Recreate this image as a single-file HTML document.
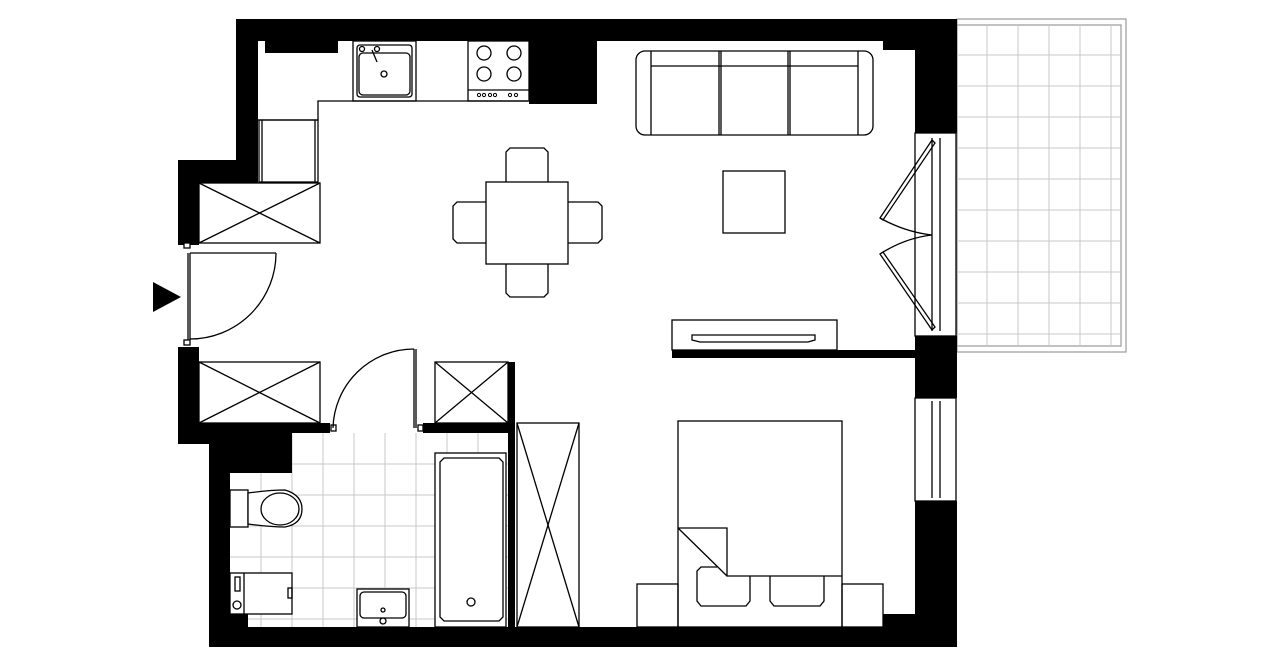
<!DOCTYPE html>
<html><head><meta charset="utf-8"><style>html,body{margin:0;padding:0;background:#fff}svg{display:block}</style></head>
<body>
<svg width="1280" height="667" viewBox="0 0 1280 667" xmlns="http://www.w3.org/2000/svg">
<rect width="1280" height="667" fill="#fff"/>
<!-- bathroom tiles -->
<g stroke="#c8c8c8" stroke-width="1">
<rect x="230" y="433" width="278" height="194" fill="#fff" stroke="none"/>
<line x1="261" y1="473" x2="261" y2="627"/><line x1="292" y1="433" x2="292" y2="627"/><line x1="323" y1="433" x2="323" y2="627"/><line x1="354" y1="433" x2="354" y2="627"/><line x1="385" y1="433" x2="385" y2="627"/><line x1="416" y1="433" x2="416" y2="627"/><line x1="447" y1="433" x2="447" y2="627"/><line x1="478" y1="433" x2="478" y2="627"/>
<line x1="292" y1="464" x2="508" y2="464"/><line x1="230" y1="495" x2="508" y2="495"/><line x1="230" y1="526" x2="508" y2="526"/><line x1="230" y1="557" x2="508" y2="557"/><line x1="230" y1="588" x2="508" y2="588"/><line x1="230" y1="619" x2="508" y2="619"/>
</g>
<!-- balcony -->
<rect x="957" y="19" width="169" height="333" fill="#fff" stroke="#999" stroke-width="1.2"/>
<rect x="957" y="25" width="164" height="321" fill="none" stroke="#999" stroke-width="1.2"/>
<g stroke="#c8c8c8" stroke-width="1">
<line x1="987" y1="25" x2="987" y2="346"/><line x1="1018" y1="25" x2="1018" y2="346"/><line x1="1049" y1="25" x2="1049" y2="346"/><line x1="1080" y1="25" x2="1080" y2="346"/><line x1="1111" y1="25" x2="1111" y2="346"/>
<line x1="957" y1="55" x2="1121" y2="55"/><line x1="957" y1="86" x2="1121" y2="86"/><line x1="957" y1="117" x2="1121" y2="117"/><line x1="957" y1="148" x2="1121" y2="148"/><line x1="957" y1="179" x2="1121" y2="179"/><line x1="957" y1="210" x2="1121" y2="210"/><line x1="957" y1="241" x2="1121" y2="241"/><line x1="957" y1="272" x2="1121" y2="272"/><line x1="957" y1="303" x2="1121" y2="303"/><line x1="957" y1="334" x2="1121" y2="334"/>
</g>
<!-- walls -->
<g fill="#000">
<rect x="236" y="19" width="721" height="22"/>
<rect x="236" y="19" width="22" height="143"/>
<rect x="178" y="160" width="80" height="23"/>
<rect x="178" y="160" width="21" height="85"/>
<rect x="265" y="41" width="73" height="12"/>
<rect x="529" y="41" width="68" height="63"/>
<rect x="883" y="41" width="32" height="9"/>
<rect x="915" y="19" width="42" height="114"/>
<rect x="915" y="336" width="42" height="62"/>
<rect x="915" y="501" width="42" height="146"/>
<rect x="672" y="350" width="243" height="8"/>
<rect x="178" y="347" width="21" height="97"/>
<rect x="178" y="423" width="152" height="10"/>
<rect x="178" y="423" width="114" height="21"/>
<rect x="209" y="433" width="83" height="40"/>
<rect x="209" y="433" width="21" height="214"/>
<rect x="230" y="614" width="18" height="13"/>
<rect x="423" y="423" width="91" height="10"/>
<rect x="508" y="362" width="7" height="265"/>
<rect x="209" y="627" width="748" height="20"/>
<rect x="883" y="614" width="32" height="13"/>
<polygon points="153,282 181,297 153,312"/>
</g>
<g fill="none" stroke="#000" stroke-width="1.3">
<!-- windows -->
<rect x="915" y="133" width="41" height="203" fill="#fff"/>
<line x1="932" y1="138" x2="932" y2="331"/><line x1="940" y1="138" x2="940" y2="331"/>
<rect x="915" y="398" width="41" height="103" fill="#fff"/>
<line x1="932" y1="401" x2="932" y2="498"/><line x1="940" y1="401" x2="940" y2="498"/>
<!-- balcony door leaves -->
<polygon points="932,140 935,143 883,220 880,218"/>
<polygon points="932,330 935,327 883,252 880,254"/>
<path d="M880,218 Q905,232 932,235"/><path d="M880,254 Q905,238 932,235"/>
<!-- kitchen -->
<polyline points="258,120 318,120 318,101 528,101"/>
<rect x="259" y="120" width="59" height="62"/><line x1="262" y1="120" x2="262" y2="182"/><line x1="315" y1="120" x2="315" y2="182"/>
<rect x="353" y="41" width="63" height="60"/><rect x="357" y="45" width="55" height="52" rx="3"/><rect x="359" y="53" width="51" height="42" rx="4"/>
<circle cx="384" cy="74" r="3"/><circle cx="362" cy="49" r="2.5"/><circle cx="377" cy="49" r="2.5"/><line x1="372" y1="50" x2="377" y2="62"/>
<rect x="468" y="41" width="61" height="60"/><line x1="468" y1="90" x2="529" y2="90"/>
<circle cx="484" cy="53" r="7"/><circle cx="514" cy="53" r="7"/><circle cx="484" cy="74" r="7"/><circle cx="514" cy="74" r="7"/>
<g stroke-width="1"><circle cx="479" cy="95" r="1.6"/><circle cx="484" cy="95" r="1.6"/><circle cx="490" cy="95" r="1.6"/><circle cx="495" cy="95" r="1.6"/><circle cx="510" cy="95" r="1.6"/><circle cx="516" cy="95" r="1.6"/></g>
<!-- closets -->
<rect x="199" y="183" width="121" height="60"/><line x1="199" y1="183" x2="320" y2="243"/><line x1="320" y1="183" x2="199" y2="243"/>
<rect x="199" y="362" width="121" height="61"/><line x1="199" y1="362" x2="320" y2="423"/><line x1="320" y1="362" x2="199" y2="423"/>
<rect x="435" y="362" width="73" height="61"/><line x1="435" y1="362" x2="508" y2="423"/><line x1="508" y1="362" x2="435" y2="423"/>
<rect x="517" y="423" width="62" height="204"/><line x1="517" y1="423" x2="579" y2="627"/><line x1="579" y1="423" x2="517" y2="627"/>
<!-- entrance door -->
<rect x="184" y="243" width="6" height="5" fill="#fff"/><rect x="184" y="340" width="6" height="5" fill="#fff"/>
<line x1="188" y1="253" x2="188" y2="340"/><line x1="190" y1="253" x2="190" y2="340"/><line x1="190" y1="253" x2="276" y2="253"/>
<path d="M276,253 A86,86 0 0 1 190,339"/>
<!-- bathroom door -->
<rect x="331" y="425" width="5" height="6" fill="#fff"/><rect x="418" y="425" width="5" height="6" fill="#fff"/>
<line x1="414" y1="349" x2="414" y2="428"/><line x1="416" y1="349" x2="416" y2="428"/>
<path d="M414,349 A81,81 0 0 0 333,428"/>
<!-- bathroom fixtures -->
<rect x="230" y="490" width="18" height="37" fill="#fff"/>
<path d="M248,493 Q270,490 285,490 Q302,495 302,509 Q302,524 285,527 Q270,527 248,524 Z" fill="#fff"/>
<ellipse cx="280" cy="509" rx="19" ry="16"/>
<rect x="230" y="573" width="62" height="41" fill="#fff"/><line x1="244" y1="573" x2="244" y2="614"/><rect x="235" y="577" width="5" height="14"/><circle cx="237" cy="605" r="4"/><rect x="288" y="588" width="4" height="10"/>
<rect x="357" y="589" width="52" height="38" fill="#fff"/><rect x="360" y="592" width="46" height="26" rx="4"/><circle cx="383" cy="610" r="2"/><circle cx="383" cy="621" r="3"/>
<rect x="435" y="453" width="71" height="174" fill="#fff"/>
<path d="M444,458 H499 L503,462 V617 L499,621 H444 L440,617 V462 Z"/><circle cx="471" cy="602" r="4"/>
<!-- dining -->
<path d="M506,182 V152 L510,148 H544 L548,152 V182"/>
<path d="M506,264 V293 L510,297 H544 L548,293 V264"/>
<path d="M486,202 H457 L453,206 V239 L457,243 H486"/>
<path d="M568,202 H598 L602,206 V239 L598,243 H568"/>
<rect x="486" y="182" width="82" height="82" fill="#fff"/>
<!-- living -->
<rect x="636" y="51" width="237" height="84" rx="9"/>
<line x1="651" y1="51" x2="651" y2="135"/><line x1="858" y1="51" x2="858" y2="135"/>
<line x1="651" y1="66" x2="858" y2="66"/>
<line x1="719" y1="51" x2="719" y2="135"/><line x1="721" y1="51" x2="721" y2="135"/>
<line x1="788" y1="51" x2="788" y2="135"/><line x1="790" y1="51" x2="790" y2="135"/>
<rect x="723" y="171" width="62" height="62"/>
<rect x="672" y="320" width="165" height="30"/>
<path d="M692,335 H815 V340 L808,342 H700 L692,340 Z"/>
<!-- bedroom -->
<rect x="637" y="584" width="41" height="43"/><rect x="842" y="584" width="41" height="43"/>
<rect x="678" y="421" width="164" height="206"/>
<polyline points="678,528 727,528 727,576 842,576"/><line x1="678" y1="528" x2="727" y2="576"/>
<path d="M717,567 H701 L697,571 V601 L701,606 H746 L750,601 V576"/>
<path d="M770,576 V601 L774,606 H820 L824,601 V576"/>
</g>
</svg>
</body></html>
